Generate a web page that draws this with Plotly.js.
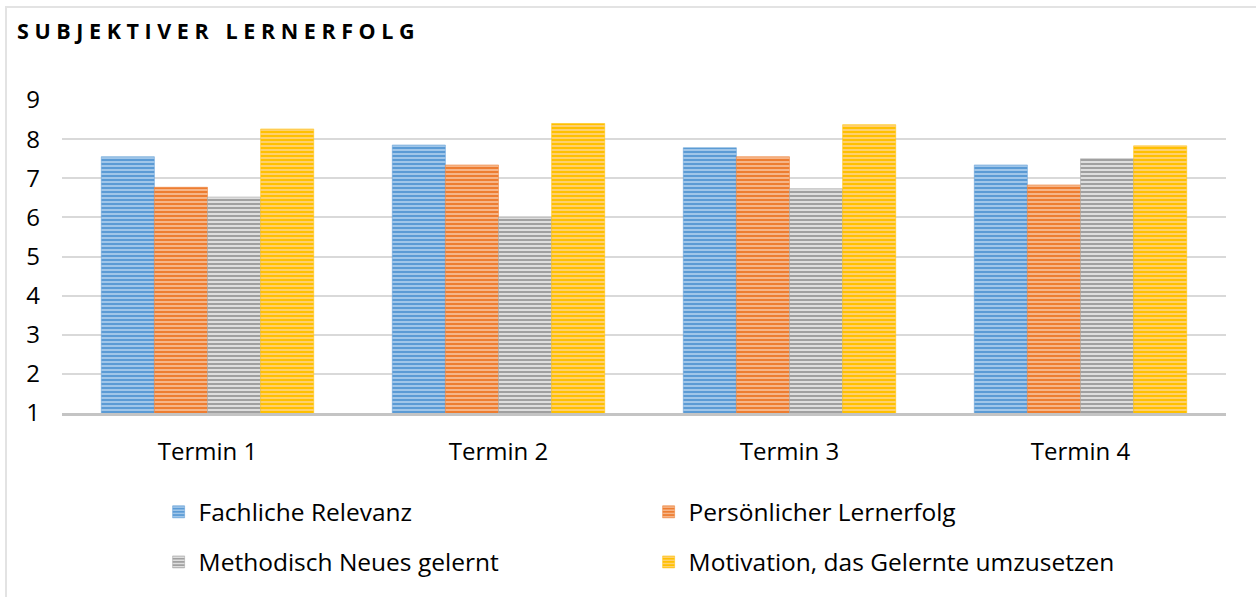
<!DOCTYPE html>
<html>
<head>
<meta charset="utf-8">
<script src="https://cdn.plot.ly/plotly-3.0.1.min.js"></script>
<style>
  html, body { margin: 0; padding: 0; background: #fff; }
  #wrap { position: relative; width: 1256px; height: 597px; }
  #chart { position: absolute; left: 0; top: 0; width: 1256px; height: 597px; }
  #frame { position: absolute; left: 5px; top: 6px; right: 0; bottom: 0;
           border-top: 2px solid #e3e3e3; border-left: 2px solid #e3e3e3; pointer-events: none; }
  .gtitle { letter-spacing: 5.6px; }
</style>
</head>
<body>
<div id="wrap">
  <div id="chart"></div>
  <div id="frame"></div>
</div>
<script>
const categories = ["Termin 1", "Termin 2", "Termin 3", "Termin 4"];
const fachlicheRelevanz = [7.55, 7.85, 7.78, 7.34];
const persoenlicherLernerfolg = [6.77, 7.34, 7.55, 6.83];
const methodischNeues = [6.52, 6.0, 6.73, 7.5];
const motivation = [8.26, 8.4, 8.37, 7.83];
const yTicks = [1, 2, 3, 4, 5, 6, 7, 8, 9];

const FONT = "'Open Sans', Lato, sans-serif";

function barTrace(name, values, bg, fg, legendId) {
  return {
    type: "bar",
    name: name,
    x: categories,
    y: values,
    legend: legendId,
    marker: {
      color: bg,
      line: { color: bg, width: 0.5 },
      pattern: { shape: "-", fillmode: "replace", bgcolor: bg, fgcolor: fg, size: 4, solidity: 0.45 }
    },
    hoverinfo: "x+y+name"
  };
}

const data = [
  barTrace("Fachliche Relevanz", fachlicheRelevanz, "#5B9BD5", "#A8CBEC", "legend"),
  barTrace("Persönlicher Lernerfolg", persoenlicherLernerfolg, "#ED7D31", "#F7BC92", "legend"),
  barTrace("Methodisch Neues gelernt", methodischNeues, "#A0A0A0", "#E6E6E6", "legend2"),
  barTrace("Motivation, das Gelernte umzusetzen", motivation, "#FFC000", "#FFD27A", "legend2")
];

const legendCommon = {
  orientation: "h",
  xref: "paper", yref: "paper",
  xanchor: "left", yanchor: "middle",
  entrywidth: 445, entrywidthmode: "pixels",
  font: { family: FONT, size: 24.5, color: "#000" },
  bgcolor: "rgba(0,0,0,0)",
  traceorder: "normal"
};

const layout = {
  width: 1256, height: 597,
  paper_bgcolor: "#fff", plot_bgcolor: "#fff",
  margin: { l: 62, r: 30, t: 100, b: 184 },
  font: { family: FONT, color: "#000" },
  title: {
    text: "<b>SUBJEKTIVER LERNERFOLG</b>",
    x: 0.0135, xref: "container", xanchor: "left",
    y: 0.947, yref: "container", yanchor: "middle",
    font: { family: FONT, size: 21.5, color: "#000" }
  },
  barmode: "group",
  bargap: 0.27,
  bargroupgap: 0,
  xaxis: {
    type: "category",
    showline: true, linecolor: "#c4c4c4", linewidth: 2.5,
    showgrid: false, ticks: "",
    tickfont: { family: FONT, size: 24, color: "#000" },
    ticklabelstandoff: 15
  },
  yaxis: {
    range: [1, 9],
    tickvals: yTicks,
    showgrid: true, gridcolor: "#d9d9d9", gridwidth: 1.5,
    zeroline: false, showline: false, ticks: "",
    tickfont: { family: FONT, size: 24, color: "#000" },
    ticklabelstandoff: 21
  },
  legend: Object.assign({}, legendCommon, { x: 0.083, y: -0.316 }),
  legend2: Object.assign({}, legendCommon, { x: 0.083, y: -0.476 }),
  showlegend: true
};

Plotly.newPlot("chart", data, layout, { displayModeBar: false, responsive: false });
</script>
</body>
</html>
